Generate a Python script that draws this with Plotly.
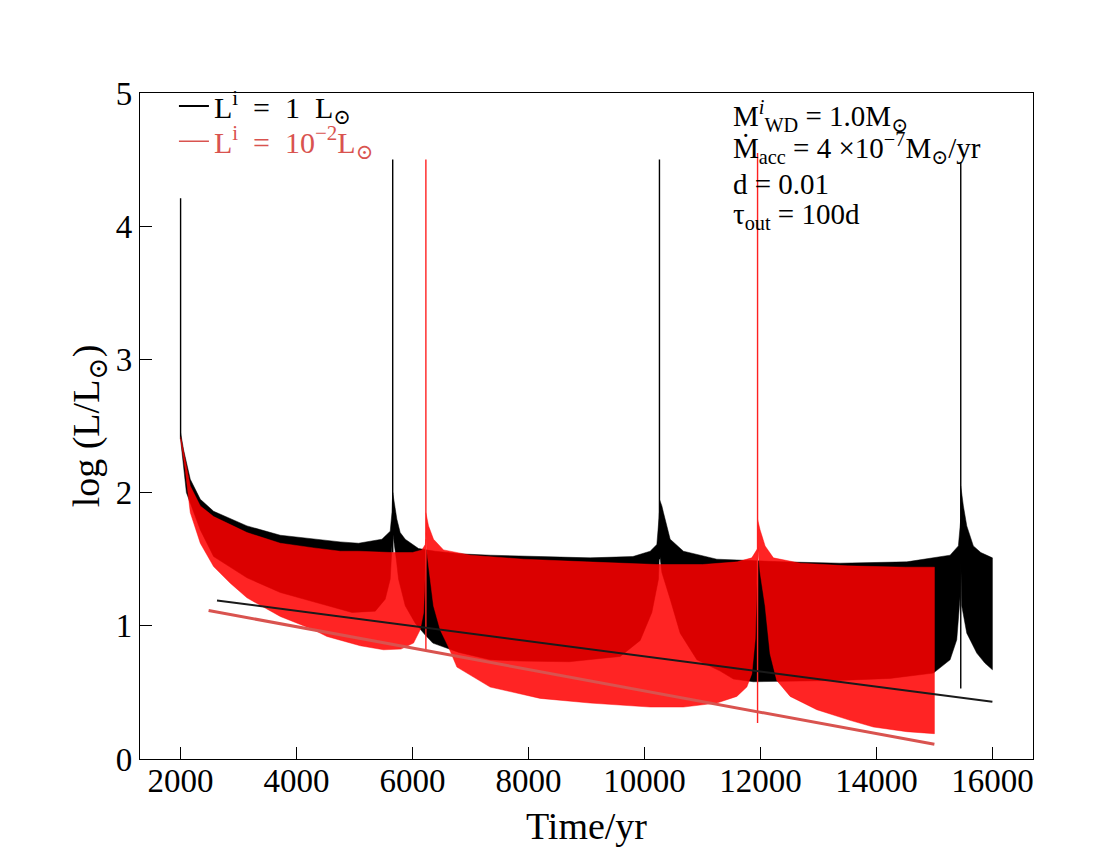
import plotly.graph_objects as go

# L_i = 1 Lsun run (black): top and bottom edges of the dense cycles, per stretch between flashes
b1_top_x = [2000, 2052, 2167, 2340, 2569, 3145, 3719, 4293, 4753, 5069, 5472, 5615, 5645, 5658]
b1_top_y = [2.45, 2.32, 2.10, 1.95, 1.86, 1.75, 1.68, 1.65, 1.63, 1.62, 1.65, 1.71, 1.85, 2.00]
b1_bot_x = [2000, 2100, 2340, 2569, 3145, 3719, 4293, 4955, 5357, 5529, 5615, 5658]
b1_bot_y = [2.40, 2.00, 1.72, 1.52, 1.36, 1.25, 1.18, 1.10, 1.11, 1.20, 1.35, 1.70]

b2_top_x = [5658, 5700, 5730, 5787, 5874, 6103, 6391, 6821, 7339, 8200, 9063, 9800, 10098, 10213, 10258]
b2_top_y = [2.00, 1.885, 1.80, 1.70, 1.65, 1.58, 1.56, 1.54, 1.53, 1.52, 1.51, 1.52, 1.56, 1.61, 1.85]
b2_bot_x = [5658, 5720, 5759, 5874, 6046, 6219, 6350, 6800, 7339, 7857, 8700, 9581, 9926, 10127, 10241, 10258]
b2_bot_y = [1.70, 1.50, 1.35, 1.15, 1.02, 0.93, 0.87, 0.80, 0.745, 0.735, 0.73, 0.77, 0.89, 1.10, 1.35, 1.55]

b3_top_x = [10258, 10300, 10327, 10443, 10672, 11247, 12396, 13373, 14523, 15270, 15413, 15454]
b3_top_y = [1.95, 1.90, 1.85, 1.65, 1.56, 1.50, 1.48, 1.47, 1.48, 1.53, 1.60, 1.80]
b3_bot_x = [10258, 10300, 10443, 10615, 10903, 11305, 11534, 11879, 12339, 13373, 14235, 14982, 15270, 15385, 15440, 15454]
b3_bot_y = [1.55, 1.40, 1.20, 0.945, 0.745, 0.66, 0.60, 0.58, 0.58, 0.59, 0.605, 0.645, 0.745, 0.895, 1.20, 1.50]

b4_top_x = [15454, 15499, 15558, 15671, 15800, 16000]
b4_top_y = [2.05, 1.90, 1.75, 1.60, 1.55, 1.51]
b4_bot_x = [15454, 15471, 15558, 15730, 15870, 16000]
b4_bot_y = [1.50, 1.15, 0.945, 0.795, 0.72, 0.67]

# L_i = 1e-2 Lsun run (red)
r1_top_x = [2000, 2167, 2340, 2569, 3145, 3719, 4293, 4753, 5069, 5645, 6000, 6162, 6219, 6230]
r1_top_y = [2.42, 2.05, 1.90, 1.82, 1.70, 1.62, 1.585, 1.56, 1.56, 1.55, 1.55, 1.57, 1.61, 1.65]
r1_bot_x = [2000, 2081, 2167, 2340, 2569, 2857, 3145, 3719, 4293, 4524, 5098, 5500, 5800, 6017, 6132, 6190, 6230]
r1_bot_y = [2.40, 2.17, 1.85, 1.62, 1.445, 1.32, 1.21, 1.07, 0.97, 0.92, 0.85, 0.82, 0.825, 0.87, 0.97, 1.10, 1.50]

r2_top_x = [6230, 6276, 6362, 6534, 7000, 7913, 9000, 10213, 11000, 11600, 11850, 11950]
r2_top_y = [1.85, 1.75, 1.65, 1.57, 1.53, 1.50, 1.48, 1.46, 1.46, 1.48, 1.51, 1.58]
r2_bot_x = [6230, 6248, 6362, 6477, 6620, 6765, 7339, 8201, 9063, 10098, 10672, 11247, 11592, 11765, 11851, 11910, 11950]
r2_bot_y = [1.70, 1.55, 1.15, 0.97, 0.84, 0.69, 0.54, 0.455, 0.42, 0.39, 0.39, 0.42, 0.47, 0.54, 0.64, 0.90, 1.45]

r3_top_x = [11950, 11994, 12080, 12223, 12689, 13500, 14500, 15000]
r3_top_y = [1.80, 1.72, 1.60, 1.51, 1.47, 1.45, 1.44, 1.44]
r3_bot_x = [11950, 11994, 12080, 12166, 12281, 12512, 12972, 13546, 13947, 14523, 15000]
r3_bot_y = [1.60, 1.40, 1.15, 0.79, 0.59, 0.47, 0.37, 0.29, 0.24, 0.205, 0.19]

# flashes
blk_flash_x = [2000, 5658, 10258, 15454]
blk_flash_lo = [2.40, 1.55, 1.50, 0.53]
blk_flash_hi = [4.21, 4.50, 4.50, 4.48]
red_flash_x = [6230, 11950]
red_flash_lo = [0.82, 0.27]
red_flash_hi = [4.50, 4.55]

# straight fits
blk_fit_x = [2628, 16000]
blk_fit_y = [1.19, 0.43]
red_fit_x = [2483, 15000]
red_fit_y = [1.115, 0.11]

x_ticks = [2000, 4000, 6000, 8000, 10000, 12000, 14000, 16000]
y_ticks = [0, 1, 2, 3, 4, 5]

FONT = "Liberation Serif, Times New Roman, DejaVu Serif, serif"
SOFT_RED = "#d9534f"


def band(segs):
    xs, ys = [], []
    for tx, ty, bx, by in segs:
        xs += tx + bx[::-1] + [None]
        ys += ty + by[::-1] + [None]
    return xs, ys


def flashes(px, lo, hi):
    xs, ys = [], []
    for x, a, b in zip(px, lo, hi):
        xs += [x, x, None]
        ys += [a, b, None]
    return xs, ys


fig = go.Figure()

bx, by = band([(b1_top_x, b1_top_y, b1_bot_x, b1_bot_y),
               (b2_top_x, b2_top_y, b2_bot_x, b2_bot_y),
               (b3_top_x, b3_top_y, b3_bot_x, b3_bot_y),
               (b4_top_x, b4_top_y, b4_bot_x, b4_bot_y)])
fig.add_trace(go.Scatter(x=bx, y=by, fill="toself", fillcolor="black", mode="lines",
                         line=dict(color="black", width=0.5), showlegend=False, hoverinfo="skip"))
fx, fy = flashes(blk_flash_x, blk_flash_lo, blk_flash_hi)
fig.add_trace(go.Scatter(x=fx, y=fy, mode="lines", line=dict(color="black", width=1.4),
                         showlegend=False, hoverinfo="skip"))

rx, ry = band([(r1_top_x, r1_top_y, r1_bot_x, r1_bot_y),
               (r2_top_x, r2_top_y, r2_bot_x, r2_bot_y),
               (r3_top_x, r3_top_y, r3_bot_x, r3_bot_y)])
fig.add_trace(go.Scatter(x=rx, y=ry, fill="toself", fillcolor="rgba(255,0,0,0.86)", mode="lines",
                         line=dict(color="rgba(255,0,0,0.86)", width=0.5), showlegend=False,
                         hoverinfo="skip"))
fx, fy = flashes(red_flash_x, red_flash_lo, red_flash_hi)
fig.add_trace(go.Scatter(x=fx, y=fy, mode="lines", line=dict(color="#ff2020", width=1.4),
                         showlegend=False, hoverinfo="skip"))

fig.add_trace(go.Scatter(x=blk_fit_x, y=blk_fit_y, mode="lines",
                         line=dict(color="#1a1a1a", width=2), showlegend=False))
fig.add_trace(go.Scatter(x=red_fit_x, y=red_fit_y, mode="lines",
                         line=dict(color=SOFT_RED, width=3), showlegend=False))

# legend entries, one legend box per row so the row spacing can follow the reference
fig.add_trace(go.Scatter(x=[None], y=[None], mode="lines", line=dict(color="black", width=2),
                         name="L<sup>i</sup>  =  1  L<sub>⊙</sub>", legend="legend"))
fig.add_trace(go.Scatter(x=[None], y=[None], mode="lines", line=dict(color=SOFT_RED, width=1.5),
                         name=f"<span style='color:{SOFT_RED}'>L<sup>i</sup>  =  10<sup>−2</sup>L<sub>⊙</sub></span>",
                         legend="legend2"))

notes = [
    "M<sup><i>i</i></sup><sub>WD</sub> = 1.0M<sub>⊙</sub>",
    "Ṁ<sub>acc</sub> = 4 ×10<sup>−7</sup>M<sub>⊙</sub>/yr",
    "d = 0.01",
    "τ<sub>out</sub> = 100d",
]
note_y = [0.999, 0.95, 0.89, 0.846]
for t, yy in zip(notes, note_y):
    fig.add_annotation(text=t, xref="paper", yref="paper", x=0.662, y=yy,
                       xanchor="left", yanchor="top", showarrow=False,
                       font=dict(family=FONT, size=29, color="black"))

axis = dict(showline=True, linecolor="black", linewidth=1.3, mirror=True, ticks="inside",
            ticklen=12, tickwidth=1.3, tickcolor="black", showgrid=False, zeroline=False,
            tickfont=dict(family=FONT, size=33, color="black"))
fig.update_xaxes(range=[1300, 16700], tickvals=x_ticks, tickformat="d", ticklabelstandoff=-8,
                 title=dict(text="Time/yr", font=dict(family=FONT, size=38, color="black"), standoff=14),
                 **axis)
fig.update_yaxes(range=[0, 5], tickvals=y_ticks,
                 title=dict(text="log (L/L<sub>⊙</sub>)", font=dict(family=FONT, size=38, color="black"),
                            standoff=4),
                 **axis)

leg = dict(xanchor="left", yanchor="top", bgcolor="rgba(0,0,0,0)",
           font=dict(family=FONT, size=30, color="black"))
fig.update_layout(
    width=1118, height=848,
    margin=dict(l=132, r=93, t=85, b=97),
    paper_bgcolor="white", plot_bgcolor="white",
    font=dict(family=FONT, color="black"),
    legend=dict(x=0.038, y=1.0195, **leg),
    legend2=dict(x=0.038, y=0.9666, **leg),
)

fig.write_html("out.html")
